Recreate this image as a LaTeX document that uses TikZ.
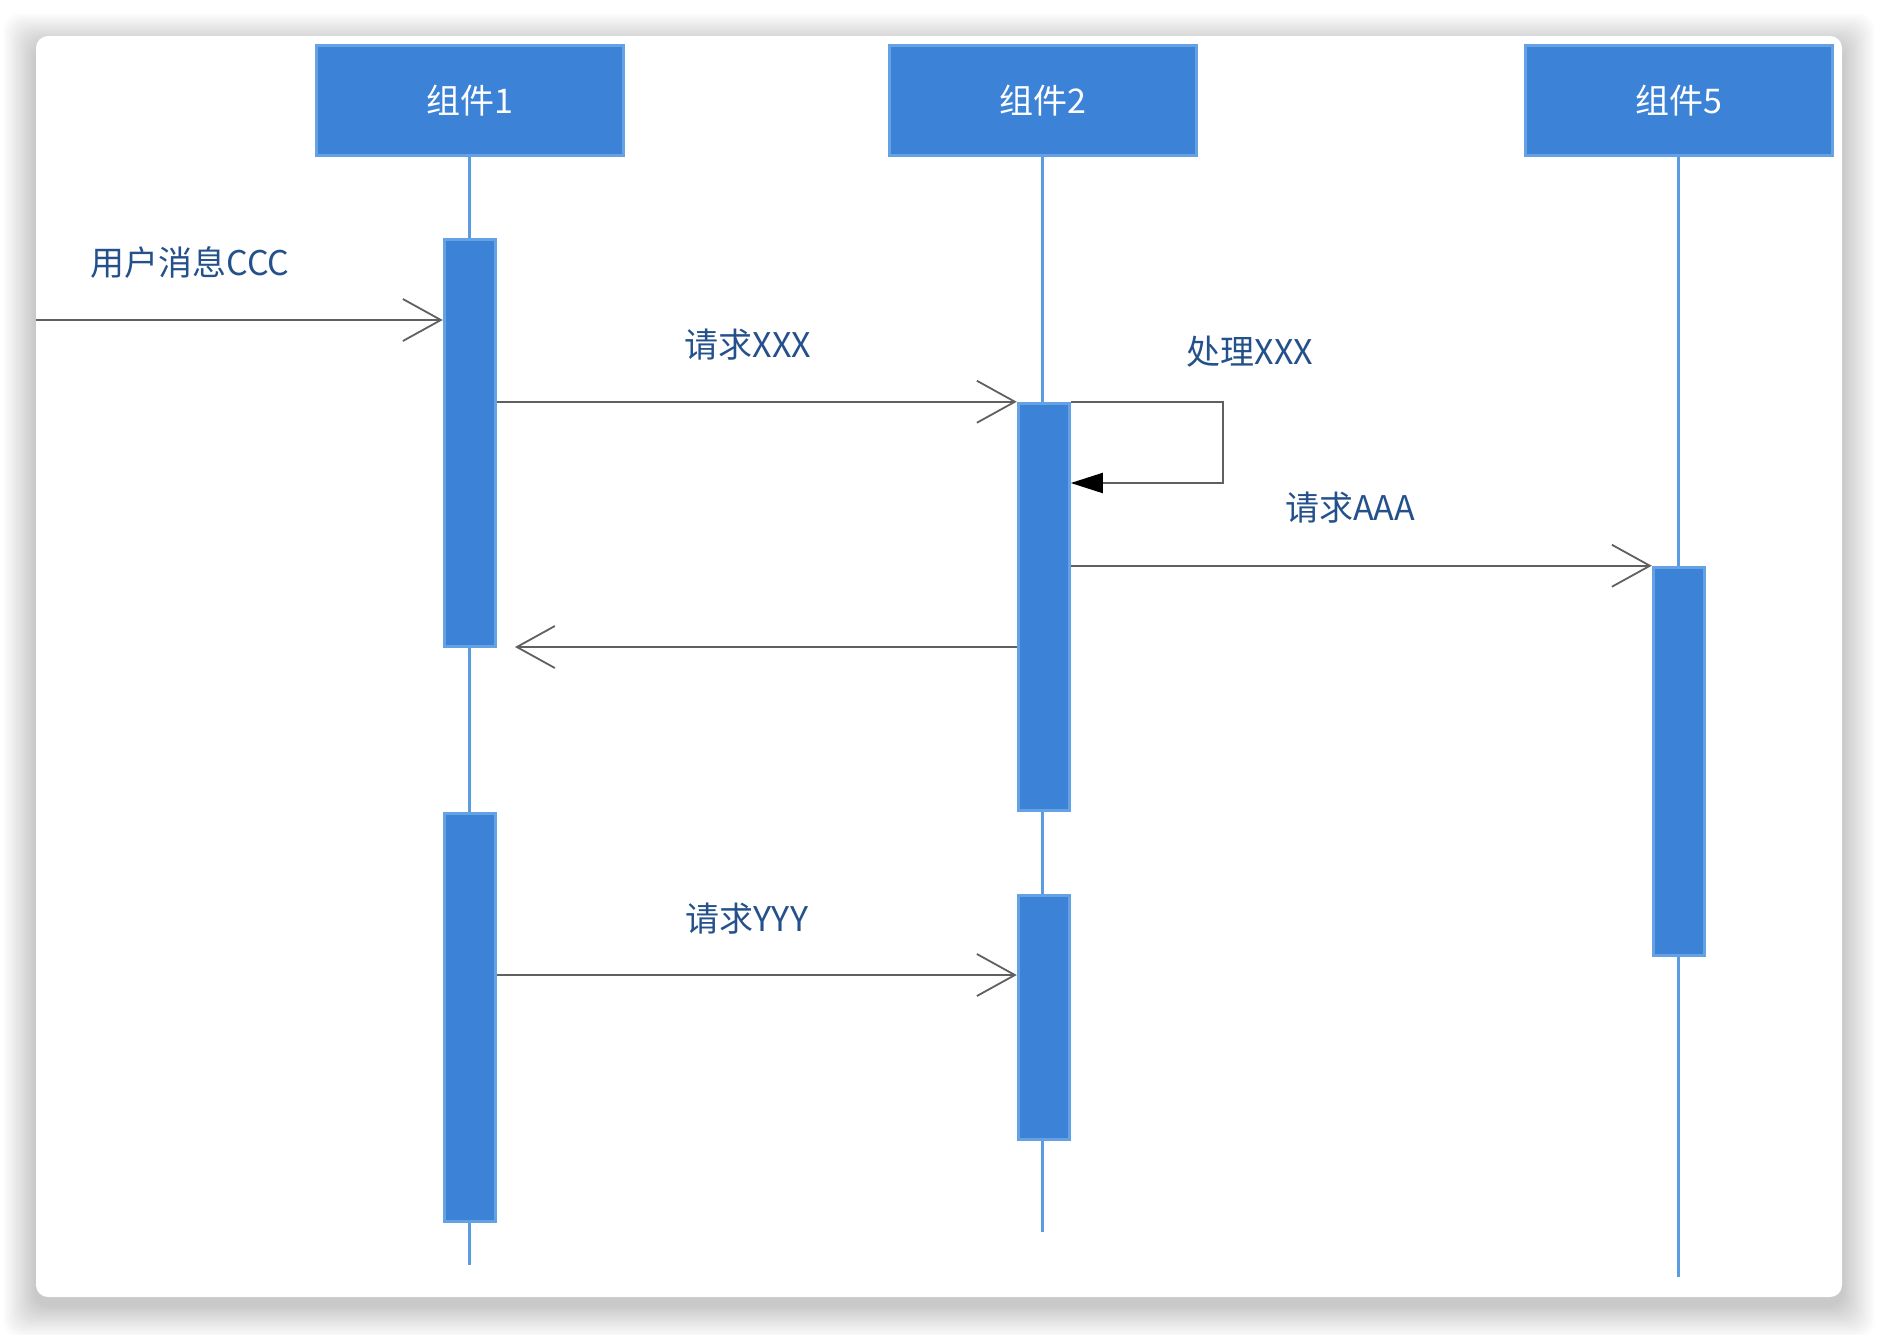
\documentclass[tikz,border=0pt]{standalone}
\usepackage{fontspec}
\setmainfont{Noto Sans CJK SC}
\usetikzlibrary{arrows.meta,calc}
\definecolor{boxfill}{HTML}{3C83D7}
\definecolor{boxedge}{HTML}{64A2E4}
\definecolor{lifec}{HTML}{5C9DE2}
\definecolor{msgc}{HTML}{606060}
\definecolor{lblc}{HTML}{24508C}
\begin{document}
\begin{tikzpicture}[x=0.5pt,y=-0.5pt,
  comp/.style={draw=boxedge,fill=boxfill,line width=1.5pt,minimum width=153.5pt,minimum height=55pt,
    inner sep=0pt,text=white,font=\fontsize{17}{20}\selectfont,anchor=north west},
  actbar/.style={draw=boxedge,fill=boxfill,line width=1.5pt,minimum width=25.5pt,inner sep=0pt,anchor=north west},
  lifeline/.style={draw=lifec,line width=1.5pt},
  msgline/.style={draw=msgc,line width=1pt},
  openarr/.style={msgline,-{Straight Barb[length=19pt,width=21pt,line width=0.9pt]}},
  filledarr/.style={msgline,-{Triangle[length=16pt,width=10pt,fill=black,color=black]}},
  lbl/.style={text=lblc,font=\fontsize{17}{20}\selectfont,inner sep=0pt}]
\useasboundingbox (0,0) rectangle (1878,1334);
% background shadow and card
\fill[white] (0,0) rectangle (1878,1334);
\foreach \i in {1,...,18}{
  \pgfmathsetmacro\d{\i*1.8}
  \fill[black,opacity=0.011,rounded corners=8pt] (36-\d,46-\d) rectangle (1842+\d,1305+\d);
}
\fill[white,rounded corners=6pt] (36,36) rectangle (1842,1297);

% components
\node[comp] (c1) at (314.75,43.75) {组件1};
\node[comp] (c2) at (887.75,43.75) {组件2};
\node[comp] (c5) at (1523.75,43.75) {组件5};

% lifeline ends
\coordinate (e1) at (468,1265);
\coordinate (e2) at (1042,1232);
\coordinate (e5) at (1678,1277);
\draw[lifeline] (c1.south) -- (c1.south |- e1);
\draw[lifeline] (c2.south) -- (c2.south |- e2);
\draw[lifeline] (c5.south) -- (c5.south |- e5);

% activation bars
\node[actbar,minimum height=203.5pt] (a1a) at (442.75,237.75) {};
\node[actbar,minimum height=204pt] (a1b) at (442.75,811.75) {};
\node[actbar,minimum height=203.5pt] (a2a) at (1016.75,401.75) {};
\node[actbar,minimum height=122pt] (a2b) at (1016.75,893.75) {};
\node[actbar,minimum height=194pt] (a5) at (1651.75,565.75) {};

% messages
\coordinate (src) at (36,320);
\draw[openarr] (src) -- (src -| a1a.west);
\node[lbl] (l1) at (190,263) {用户消息CCC};

\draw[openarr] (a1a.east |- a2a.north) -- (a2a.north west);
\node[lbl] (l2) at (748,345) {请求XXX};

\coordinate (selfc) at (1223,483);
\draw[filledarr] (a2a.north east) -- (a2a.north east -| selfc) -- (selfc) -- (a2a.east |- selfc);
\node[lbl] (l3) at (1250,352) {处理XXX};

\draw[openarr] (a2a.east |- a5.north) -- (a5.north west);
\node[lbl] (l4) at (1350,508) {请求AAA};

\coordinate (rtip) at (515,647);
\draw[openarr] (a2a.west |- rtip) -- (rtip);

\coordinate (ymsg) at (0,975);
\draw[openarr] (a1b.east |- ymsg) -- (a2b.west |- ymsg);
\node[lbl] (l5) at (747,919) {请求YYY};
\end{tikzpicture}
\end{document}
